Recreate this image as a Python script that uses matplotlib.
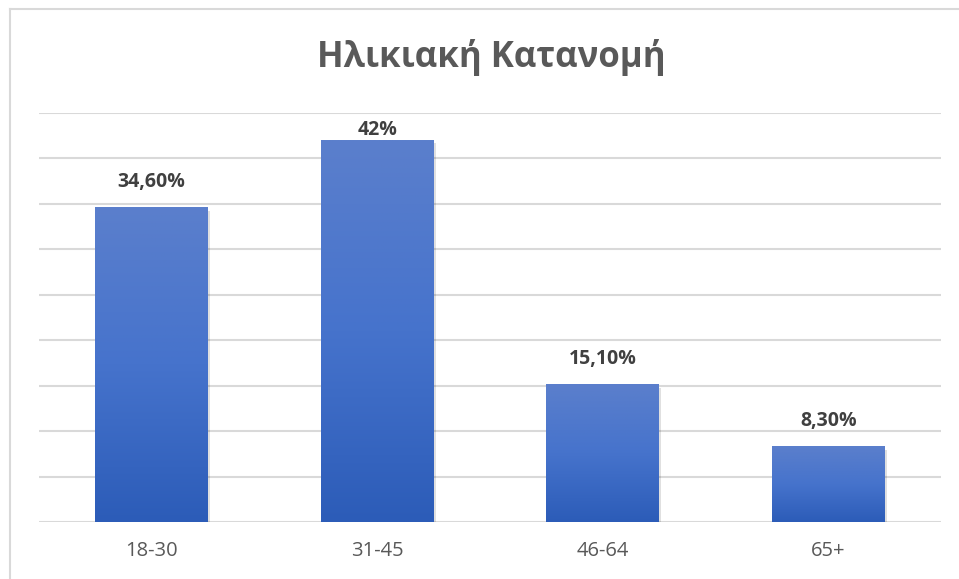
import matplotlib.pyplot as plt
from matplotlib.patches import Rectangle
from matplotlib.lines import Line2D
from matplotlib.colors import LinearSegmentedColormap
import numpy as np

plt.rcParams['font.family'] = ['Open Sans', 'DejaVu Sans']

# data
age_groups = ['18-30', '31-45', '46-64', '65+']
shares = [34.6, 42.0, 15.1, 8.3]
value_labels = ['34,60%', '42%', '15,10%', '8,30%']

title = 'Ηλικιακή Κατανομή'

fig = plt.figure(figsize=(9.59, 5.79), dpi=100)
W, H = 959, 579

# light frame around the chart (only top/left visible in the crop)
fig.add_artist(Line2D([9.5 / W, 9.5 / W], [0, 1 - 8.5 / H], transform=fig.transFigure,
                      color='#D9D9D9', linewidth=1.5))
fig.add_artist(Line2D([9.5 / W, 1], [1 - 8.5 / H, 1 - 8.5 / H], transform=fig.transFigure,
                      color='#D9D9D9', linewidth=1.5))

ax = fig.add_axes([39 / W, 1 - 522 / H, (941 - 39) / W, (522 - 113) / H])
ymax = 45

for y in np.arange(0, ymax + 1, 5):
    ax.axhline(y, color='#D9D9D9', linewidth=1.5, zorder=0)

grad = LinearSegmentedColormap.from_list('bar', ['#2C5CB8', '#4673CC', '#5B7FCC'])
img = np.linspace(0, 1, 256).reshape(-1, 1)
width = 0.5
for i, v in enumerate(shares):
    # soft shadow
    ax.add_patch(Rectangle((i - width / 2 + 0.01, -0.35), width, v, facecolor='#000000',
                           alpha=0.12, edgecolor='none', zorder=1))
    ax.imshow(img, cmap=grad, aspect='auto', origin='lower',
              extent=(i - width / 2, i + width / 2, 0, v), zorder=2)
    ax.text(i, min(v + 2.8, 43.1), value_labels[i], ha='center', va='center', fontsize=14,
            fontweight='bold', color='#404040')

ax.set_xticks(range(len(age_groups)))
ax.set_xticklabels(age_groups, fontsize=14.5, color='#595959')
ax.tick_params(axis='x', length=0, pad=14)
ax.set_yticks([])
for s in ax.spines.values():
    s.set_visible(False)
ax.set_xlim(-0.5, len(age_groups) - 0.5)
ax.set_ylim(0, ymax)

fig.text(491 / W, 1 - 57 / H, title, ha='center', va='center', fontsize=25,
         fontweight='bold', color='#595959')

fig.savefig('out.png', dpi=100)
